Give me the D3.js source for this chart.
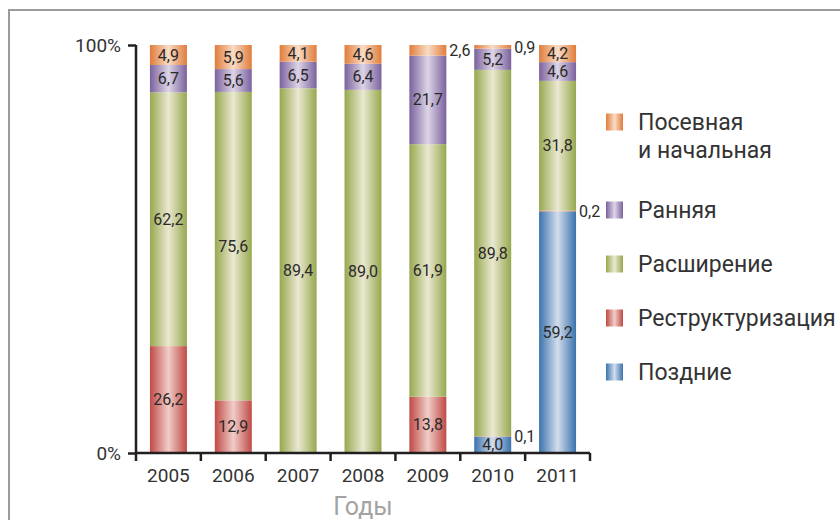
<!DOCTYPE html>
<html>
<head>
<meta charset="utf-8">
<script src="https://cdn.jsdelivr.net/npm/d3@7"></script>
<style>
  html, body { margin: 0; padding: 0; background: #fff; }
  svg { display: block; font-family: Roboto, "DejaVu Sans", sans-serif; }
</style>
</head>
<body>
<svg id="chart" width="840" height="520"></svg>
<script>
// Distribution of investment by stage, share of total per year (%)
const years = ["2005", "2006", "2007", "2008", "2009", "2010", "2011"];

// Series, stacked bottom to top
const seriesKeys = ["late", "restructuring", "expansion", "early", "seed"];
const seriesNames = {
  seed: "Посевная\nи начальная",
  early: "Ранняя",
  expansion: "Расширение",
  restructuring: "Реструктуризация",
  late: "Поздние"
};
const late          = [0,    0,    0,    0,    0,    4.0,  59.2];
const restructuring = [26.2, 12.9, 0,    0,    13.8, 0.1,  0.2];
const expansion     = [62.2, 75.6, 89.4, 89.0, 61.9, 89.8, 31.8];
const early         = [6.7,  5.6,  6.5,  6.4,  21.7, 5.2,  4.6];
const seed          = [4.9,  5.9,  4.1,  4.6,  2.6,  0.9,  4.2];

const yTicks = [0, 100];
const axisTitle = "Годы";
const legendOrder = ["seed", "early", "expansion", "restructuring", "late"];

const values = { late, restructuring, expansion, early, seed };
const rows = years.map((y, i) => {
  const r = { year: y };
  seriesKeys.forEach(k => r[k] = values[k][i]);
  return r;
});

// Edge / highlight colours for the cylindrical bar shading
const palette = {
  seed:          ["#e07c3b", "#f9dcc5"],
  early:         ["#7a629d", "#ddd4e6"],
  expansion:     ["#97a84e", "#eae8d1"],
  restructuring: ["#bf4a46", "#f1cdc7"],
  late:          ["#3a73ad", "#d3ddec"]
};

const svg = d3.select("#chart");

// gradients
const defs = svg.append("defs");
Object.entries(palette).forEach(([k, [edge, mid]]) => {
  const g = defs.append("linearGradient")
    .attr("id", "grad-" + k)
    .attr("x1", "0%").attr("x2", "100%").attr("y1", "0%").attr("y2", "0%");
  g.append("stop").attr("offset", "0%").attr("stop-color", edge);
  g.append("stop").attr("offset", "50%").attr("stop-color", mid);
  g.append("stop").attr("offset", "100%").attr("stop-color", edge);
});

// outer frame
svg.append("path")
  .attr("d", "M9,520 V10 H840")
  .attr("fill", "none")
  .attr("stroke", "#9b9b9b")
  .attr("stroke-width", 2);

const x = d3.scaleBand()
  .domain(years)
  .range([136, 590])
  .paddingInner(0.43)
  .paddingOuter(0.215);

const y = d3.scaleLinear().domain([0, 100]).range([453, 45]);

const stack = d3.stack().keys(seriesKeys);
const stacked = stack(rows);

const fmt = v => d3.format(".1f")(v).replace(".", ",");

// bars
const layers = svg.append("g").selectAll("g")
  .data(stacked)
  .join("g")
  .attr("fill", d => `url(#grad-${d.key})`);

layers.selectAll("rect")
  .data(d => d.filter(s => s[1] - s[0] > 0))
  .join("rect")
  .attr("x", d => x(d.data.year))
  .attr("width", x.bandwidth())
  .attr("y", d => y(d[1]))
  .attr("height", d => y(d[0]) - y(d[1]));

// value labels
const labelData = [];
stacked.forEach(layer => {
  layer.forEach(s => {
    const v = s[1] - s[0];
    if (v > 0) labelData.push({ key: layer.key, year: s.data.year, v, mid: (s[0] + s[1]) / 2 });
  });
});

svg.append("g").selectAll("text")
  .data(labelData)
  .join("text")
  .attr("x", d => d.v >= 3 ? x(d.year) + x.bandwidth() / 2 : x(d.year) + x.bandwidth() + 3)
  .attr("y", d => y(d.v >= 3 ? d.mid : Math.min(d.mid, 99.5)))
  .attr("dy", "0.35em")
  .attr("text-anchor", d => d.v >= 3 ? "middle" : "start")
  .attr("font-size", 16)
  .attr("fill", "#2b2a2a")
  .text(d => fmt(d.v));

// y axis
const yAxis = svg.append("g")
  .attr("transform", "translate(136,0)")
  .call(d3.axisLeft(y).tickValues(yTicks).tickFormat(d => d + "%").tickSize(8).tickPadding(7));
yAxis.select(".domain").attr("d", `M0,${y(100)}V${y(0)}`);

// x axis
const xAxis = svg.append("g")
  .attr("transform", `translate(0,${y(0)})`)
  .call(d3.axisBottom(x).tickSize(0).tickPadding(16));
xAxis.select(".domain").attr("d", `M${x.range()[0]},0H${x.range()[1]}`);

// tick marks between categories
const step = x.step();
const boundaries = years.map(yr => x(yr) - step * x.paddingInner() / 2)
  .concat([x(years[years.length - 1]) + x.bandwidth() + step * x.paddingInner() / 2]);
xAxis.selectAll(".bound")
  .data(boundaries)
  .join("line")
  .attr("class", "bound")
  .attr("x1", d => d).attr("x2", d => d)
  .attr("y1", 0).attr("y2", 8);

svg.selectAll(".domain, .tick line, .bound")
  .attr("stroke", "#231f20")
  .attr("stroke-width", 2.5);
svg.selectAll(".tick text")
  .attr("font-size", 19)
  .attr("font-family", "Roboto, sans-serif")
  .attr("fill", "#333");

// axis title
svg.append("text")
  .attr("x", (x.range()[0] + x.range()[1]) / 2)
  .attr("y", 515)
  .attr("text-anchor", "middle")
  .attr("font-size", 25)
  .attr("fill", "#a3a3a3")
  .text(axisTitle);

// legend
const legendY = [122, 210, 264, 318, 372];
const legend = svg.append("g").selectAll("g")
  .data(legendOrder)
  .join("g")
  .attr("transform", (d, i) => `translate(606,${legendY[i]})`);

legend.append("rect")
  .attr("x", 0).attr("y", -8.5)
  .attr("width", 17).attr("height", 17)
  .attr("fill", d => `url(#grad-${d})`);

legend.append("text")
  .attr("x", 32)
  .attr("font-size", 23)
  .attr("fill", "#333")
  .each(function (d) {
    const lines = seriesNames[d].split("\n");
    d3.select(this).selectAll("tspan")
      .data(lines)
      .join("tspan")
      .attr("x", 32)
      .attr("dy", (l, i) => i === 0 ? "0.35em" : "1.22em")
      .text(l => l);
  });
</script>
</body>
</html>
